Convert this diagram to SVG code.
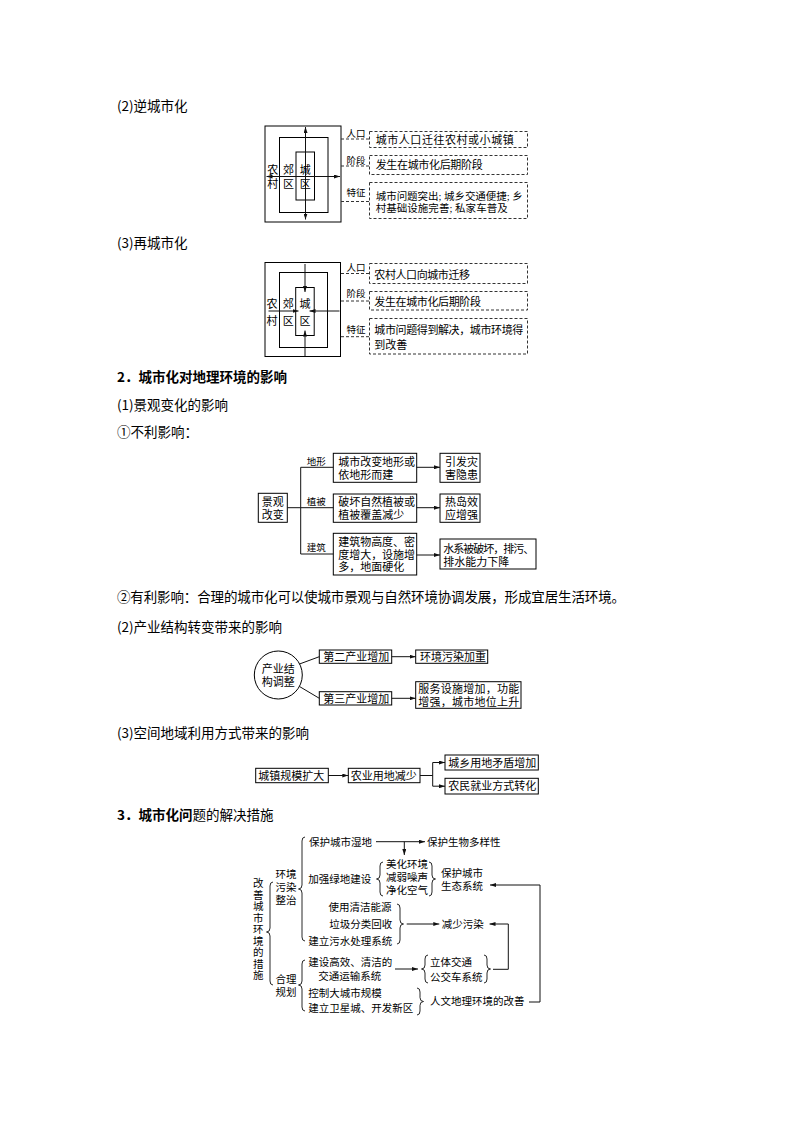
<svg xmlns="http://www.w3.org/2000/svg" width="794" height="1123" viewBox="0 0 794 1123">
<defs>
<style>
.h{font-family:"Noto Sans CJK SC","Liberation Sans",sans-serif;font-size:13.5px;fill:#000}
.t{font-family:"Liberation Serif","Noto Sans CJK SC",serif;font-size:11px;fill:#000}
.s{font-family:"Liberation Serif","Noto Sans CJK SC",serif;font-size:10.5px;fill:#000}
.l{font-family:"Liberation Serif","Noto Sans CJK SC",serif;font-size:9.5px;fill:#000}
.c{text-anchor:middle}
.box{fill:none;stroke:#000;stroke-width:1}
.dbox{fill:none;stroke:#333;stroke-width:1;stroke-dasharray:3 2}
.dl{fill:none;stroke:#333;stroke-width:1;stroke-dasharray:3 2}
.ln{fill:none;stroke:#111;stroke-width:1}
.ar{fill:none;stroke:#111;stroke-width:1;marker-end:url(#ah)}
.br{fill:none;stroke:#111;stroke-width:0.9}
</style>
<marker id="ah" viewBox="0 0 6 4" refX="6" refY="2" markerWidth="6" markerHeight="4" markerUnits="userSpaceOnUse" orient="auto"><path d="M0,0 L6,2 L0,4 z" fill="#111"/></marker>
</defs>
<rect width="794" height="1123" fill="#fff"/>

<!-- headings -->
<g id="headings">
<text class="h" x="117" y="111">(2)逆城市化</text>
<text class="h" x="117" y="248">(3)再城市化</text>
<text class="h" x="117" y="381.5" font-weight="bold">2．城市化对地理环境的影响</text>
<text class="h" x="117" y="410">(1)景观变化的影响</text>
<text class="h" x="117" y="436.5">①不利影响：</text>
<text class="h" x="117" y="601.5" textLength="508">②有利影响：合理的城市化可以使城市景观与自然环境协调发展，形成宜居生活环境。</text>
<text class="h" x="117" y="631.5">(2)产业结构转变带来的影响</text>
<text class="h" x="117" y="738">(3)空间地域利用方式带来的影响</text>
<text class="h" x="117" y="820"><tspan font-weight="bold">3．城市化问</tspan>题的解决措施</text>
</g>

<!-- Diagram 1: 逆城市化 -->
<g id="counter-urbanization">
<rect class="box" x="265" y="126" width="76" height="96"/>
<rect class="box" x="279.5" y="137.5" width="48.5" height="75"/>
<rect class="box" x="296" y="152" width="18.5" height="48"/>
<line class="ar" x1="305.5" y1="176" x2="305.5" y2="127"/>
<line class="ar" x1="305.5" y1="176" x2="305.5" y2="219.5"/>
<line class="ar" x1="305.5" y1="176.5" x2="266.5" y2="176.5"/>
<line class="ar" x1="305.5" y1="176.5" x2="340" y2="176.5"/>
<text class="t c"><tspan x="272.7" y="174.2">农</tspan><tspan x="272.7" y="188">村</tspan></text>
<text class="t c"><tspan x="288.5" y="174.2">郊</tspan><tspan x="288.5" y="188">区</tspan></text>
<text class="t c"><tspan x="305.3" y="174.2">城</tspan><tspan x="305.3" y="188">区</tspan></text>
</g>
<g id="counter-labels">
<text class="l" x="346.5" y="137">人口</text>
<text class="l" x="346.5" y="164">阶段</text>
<text class="l" x="346.5" y="196">特征</text>
<line class="dl" x1="341" y1="139" x2="369" y2="139"/>
<line class="dl" x1="341" y1="166" x2="369" y2="166"/>
<line class="dl" x1="341" y1="201.5" x2="369" y2="201.5"/>
<rect class="dbox" x="369.5" y="131.5" width="158" height="16"/>
<rect class="dbox" x="369.5" y="155.5" width="158" height="19"/>
<rect class="dbox" x="369.5" y="182.5" width="158" height="36"/>
<text class="t" x="375.7" y="143.5" textLength="138">城市人口迁往农村或小城镇</text>
<text class="t" x="375.7" y="169.2" textLength="107">发生在城市化后期阶段</text>
<text class="s"><tspan x="375.7" y="200" textLength="147">城市问题突出; 城乡交通便捷; 乡</tspan><tspan x="375.7" y="212" textLength="132">村基础设施完善; 私家车普及</tspan></text>
</g>

<!-- Diagram 2: 再城市化 -->
<g id="re-urbanization">
<rect class="box" x="265" y="262.5" width="75.5" height="94"/>
<rect class="box" x="279.5" y="272.5" width="48" height="75"/>
<rect class="box" x="295.7" y="287.5" width="18.5" height="48"/>
<line class="ar" x1="305" y1="264" x2="305" y2="292"/>
<line class="ar" x1="305" y1="356" x2="305" y2="330.5"/>
<line class="ar" x1="268.5" y1="311" x2="298.5" y2="311"/>
<line class="ar" x1="339.5" y1="311" x2="309.5" y2="311"/>
<text class="t c"><tspan x="272" y="308.2">农</tspan><tspan x="272" y="325">村</tspan></text>
<text class="t c"><tspan x="288.3" y="308.2">郊</tspan><tspan x="288.3" y="325">区</tspan></text>
<text class="t c"><tspan x="305" y="308.2">城</tspan><tspan x="305" y="325">区</tspan></text>
</g>
<g id="re-labels">
<text class="l" x="346.5" y="270.7">人口</text>
<text class="l" x="346.5" y="296.7">阶段</text>
<text class="l" x="346.5" y="333.3">特征</text>
<line class="dl" x1="341" y1="273.5" x2="369" y2="273.5"/>
<line class="dl" x1="341" y1="301" x2="369" y2="301"/>
<line class="dl" x1="341" y1="336.7" x2="369" y2="336.7"/>
<rect class="dbox" x="369.5" y="263.5" width="158" height="20"/>
<rect class="dbox" x="369.5" y="291.5" width="158" height="18.5"/>
<rect class="dbox" x="369.5" y="318.5" width="158" height="35.5"/>
<text class="t" x="374.3" y="279.2" textLength="95.7">农村人口向城市迁移</text>
<text class="t" x="374.3" y="305.9" textLength="106.7">发生在城市化后期阶段</text>
<text class="t"><tspan x="374.3" y="334.2" textLength="149">城市问题得到解决，城市环境得</tspan><tspan x="374.3" y="349.2">到改善</tspan></text>
</g>

<!-- Landscape diagram -->
<g id="landscape">
<rect class="box" x="258.3" y="493.3" width="29" height="29"/>
<text class="t c"><tspan x="272.8" y="505.9">景观</tspan><tspan x="272.8" y="519.2">改变</tspan></text>
</g>
<g id="landscape-mid">
<rect class="box" x="333.3" y="453.3" width="83.4" height="29"/>
<text class="t"><tspan x="338.3" y="465.9" textLength="76.7">城市改变地形或</tspan><tspan x="338.3" y="478.5">依地形而建</tspan></text>
<rect class="box" x="333.3" y="494" width="83.4" height="28.3"/>
<text class="t"><tspan x="338.3" y="505.9" textLength="76.7">破坏自然植被或</tspan><tspan x="338.3" y="519.2">植被覆盖减少</tspan></text>
<rect class="box" x="333.3" y="533.3" width="83.4" height="41.7"/>
<text class="t"><tspan x="338.3" y="545.9" textLength="76.7">建筑物高度、密</tspan><tspan x="338.3" y="558.5" textLength="76.7">度增大，设施增</tspan><tspan x="338.3" y="570.9">多，地面硬化</tspan></text>
</g>
<g id="landscape-right">
<rect class="box" x="440" y="453.3" width="40" height="29"/>
<text class="t"><tspan x="445" y="465.9">引发灾</tspan><tspan x="445" y="478.5">害隐患</tspan></text>
<rect class="box" x="440" y="494" width="40" height="28.3"/>
<text class="t"><tspan x="445" y="505.9">热岛效</tspan><tspan x="445" y="519.2">应增强</tspan></text>
<rect class="box" x="440" y="539" width="96" height="30"/>
<text class="t"><tspan x="443.3" y="552.5" textLength="91">水系被破坏，排污、</tspan><tspan x="443.3" y="565.9">排水能力下降</tspan></text>
</g>
<g id="landscape-connectors">
<line class="ln" x1="287.3" y1="507.7" x2="300.7" y2="507.7"/>
<line class="ln" x1="300.7" y1="467.3" x2="300.7" y2="554"/>
<line class="ln" x1="300.7" y1="467.3" x2="333.3" y2="467.3"/>
<line class="ln" x1="300.7" y1="507.7" x2="333.3" y2="507.7"/>
<line class="ln" x1="300.7" y1="554" x2="333.3" y2="554"/>
<text class="l" x="306.7" y="464.5">地形</text>
<text class="l" x="306.7" y="505">植被</text>
<text class="l" x="306.7" y="551">建筑</text>
<line class="ar" x1="416.7" y1="467.3" x2="440" y2="467.3"/>
<line class="ar" x1="416.7" y1="507.7" x2="440" y2="507.7"/>
<line class="ar" x1="416.7" y1="555" x2="440" y2="555"/>
</g>

<!-- Industry diagram -->
<g id="industry">
<circle class="box" cx="278.3" cy="675" r="24"/>
<text class="t c"><tspan x="278.3" y="672.5">产业结</tspan><tspan x="278.3" y="686">构调整</tspan></text>
</g>
<g id="industry-boxes">
<rect class="box" x="319.3" y="650" width="72.4" height="13.3"/>
<text class="t" x="323.3" y="660.9">第二产业增加</text>
<rect class="box" x="415.7" y="650" width="72" height="13.3"/>
<text class="t" x="420" y="660.9">环境污染加重</text>
<rect class="box" x="319.3" y="691.7" width="72.4" height="13.3"/>
<text class="t" x="323.3" y="702.5">第三产业增加</text>
<rect class="box" x="415.7" y="681.7" width="105.3" height="26.6"/>
<text class="t"><tspan x="418.3" y="692.5" textLength="101">服务设施增加，功能</tspan><tspan x="418.3" y="706" textLength="101">增强，城市地位上升</tspan></text>
</g>
<g id="industry-connectors">
<line class="ln" x1="299.5" y1="664" x2="319.3" y2="656.7"/>
<line class="ln" x1="299.5" y1="686.5" x2="319.3" y2="698.3"/>
<line class="ar" x1="391.7" y1="656.7" x2="415.7" y2="656.7"/>
<line class="ar" x1="391.7" y1="698.3" x2="415.7" y2="698.3"/>
</g>

<!-- Spatial diagram -->
<g id="spatial">
<rect class="box" x="255.7" y="768.3" width="72.6" height="14.4"/>
<text class="t" x="258.3" y="779.7">城镇规模扩大</text>
<rect class="box" x="348.3" y="768.3" width="71.7" height="14.4"/>
<text class="t" x="350.7" y="779.7">农业用地减少</text>
<rect class="box" x="445" y="755" width="93.3" height="15"/>
<text class="t" x="448.3" y="766.7">城乡用地矛盾增加</text>
<rect class="box" x="445" y="778.3" width="93.3" height="15.7"/>
<text class="t" x="448.3" y="790.4">农民就业方式转化</text>
</g>
<g id="spatial-connectors">
<line class="ar" x1="328.3" y1="775.5" x2="348.3" y2="775.5"/>
<line class="ln" x1="420" y1="775.5" x2="432.7" y2="775.5"/>
<line class="ln" x1="432.7" y1="762.5" x2="432.7" y2="786.2"/>
<line class="ar" x1="432.7" y1="762.5" x2="445" y2="762.5"/>
<line class="ar" x1="432.7" y1="786.2" x2="445" y2="786.2"/>
</g>

<!-- Measures diagram -->
<g id="measures-root">
<text class="s c" font-size="10"><tspan x="258.3" y="887">改</tspan><tspan x="258.3" y="898.5">善</tspan><tspan x="258.3" y="910">城</tspan><tspan x="258.3" y="921.5">市</tspan><tspan x="258.3" y="933">环</tspan><tspan x="258.3" y="944.5">境</tspan><tspan x="258.3" y="956">的</tspan><tspan x="258.3" y="967.5">措</tspan><tspan x="258.3" y="979">施</tspan></text>
<path class="br" d="M273,882 Q270,882 270,886 L270,928 Q270,932 266.5,932 Q270,932 270,936 L270,981 Q270,985 273,985"/>
</g>
<g id="measures-env">
<text class="s c"><tspan x="286" y="877.8">环境</tspan><tspan x="286" y="890.8">污染</tspan><tspan x="286" y="903.8">整治</tspan></text>
<path class="br" d="M305,837 Q302,837 302,841 L302,885 Q302,889 298.5,889 Q302,889 302,893 L302,937 Q302,941 305,941"/>
<text class="s" x="309" y="845.7">保护城市湿地</text>
<text class="s" x="427" y="845.7">保护生物多样性</text>
<text class="s" x="308.3" y="883">加强绿地建设</text>
<path class="br" d="M383,862 Q380,862 380,866 L380,875 Q380,879 376.5,879 Q380,879 380,883 L380,892 Q380,896 383,896"/>
<text class="s"><tspan x="386" y="868">美化环境</tspan><tspan x="386" y="881">减弱噪声</tspan><tspan x="386" y="894">净化空气</tspan></text>
<path class="br" d="M429,862 Q432,862 432,866 L432,875 Q432,879 435.5,879 Q432,879 432,883 L432,892 Q432,896 429,896"/>
<text class="s"><tspan x="441" y="877">保护城市</tspan><tspan x="441" y="890">生态系统</tspan></text>
<text class="s"><tspan x="328.5" y="910.7">使用清洁能源</tspan><tspan x="329.3" y="928">垃圾分类回收</tspan><tspan x="308.3" y="944.7">建立污水处理系统</tspan></text>
<path class="br" d="M397,904 Q400,904 400,908 L400,920 Q400,924 403.5,924 Q400,924 400,928 L400,940 Q400,944 397,944"/>
<text class="s" x="441.7" y="928">减少污染</text>
</g>
<g id="measures-plan">
<text class="s c"><tspan x="286" y="982.5">合理</tspan><tspan x="286" y="995.5">规划</tspan></text>
<path class="br" d="M305,960 Q302,960 302,964 L302,981 Q302,985 298.5,985 Q302,985 302,989 L302,1007 Q302,1011 305,1011"/>
<text class="s"><tspan x="308.3" y="965.7">建设高效、清洁的</tspan><tspan x="318.3" y="980">交通运输系统</tspan></text>
<path class="br" d="M428,955 Q425,955 425,959 L425,965 Q425,969 421.5,969 Q425,969 425,973 L425,979 Q425,983 428,983"/>
<text class="s"><tspan x="430" y="965.7">立体交通</tspan><tspan x="430" y="980.7">公交车系统</tspan></text>
<path class="br" d="M484,955 Q487,955 487,959 L487,965 Q487,969 490.5,969 Q487,969 487,973 L487,979 Q487,983 484,983"/>
<text class="s"><tspan x="308.3" y="997.3">控制大城市规模</tspan><tspan x="308.3" y="1012.3">建立卫星城、开发新区</tspan></text>
<path class="br" d="M417,988 Q420,988 420,992 L420,997.5 Q420,1001.5 423.5,1001.5 Q420,1001.5 420,1005.5 L420,1011 Q420,1015 417,1015"/>
<text class="s" x="430" y="1004.7">人文地理环境的改善</text>
</g>
<g id="measures-connectors">
<line class="ar" x1="376" y1="841.7" x2="425" y2="841.7"/>
<line class="ar" x1="404.3" y1="841.7" x2="404.3" y2="855"/>
<line class="ar" x1="406.7" y1="924" x2="439.3" y2="924"/>
<polyline class="ar" points="493,969.3 508.3,969.3 508.3,924 489.5,924"/>
<line class="ar" x1="395" y1="969" x2="418" y2="969"/>
<polyline class="ar" points="529,1002 540,1002 540,885 490,885"/>
</g>
</svg>
